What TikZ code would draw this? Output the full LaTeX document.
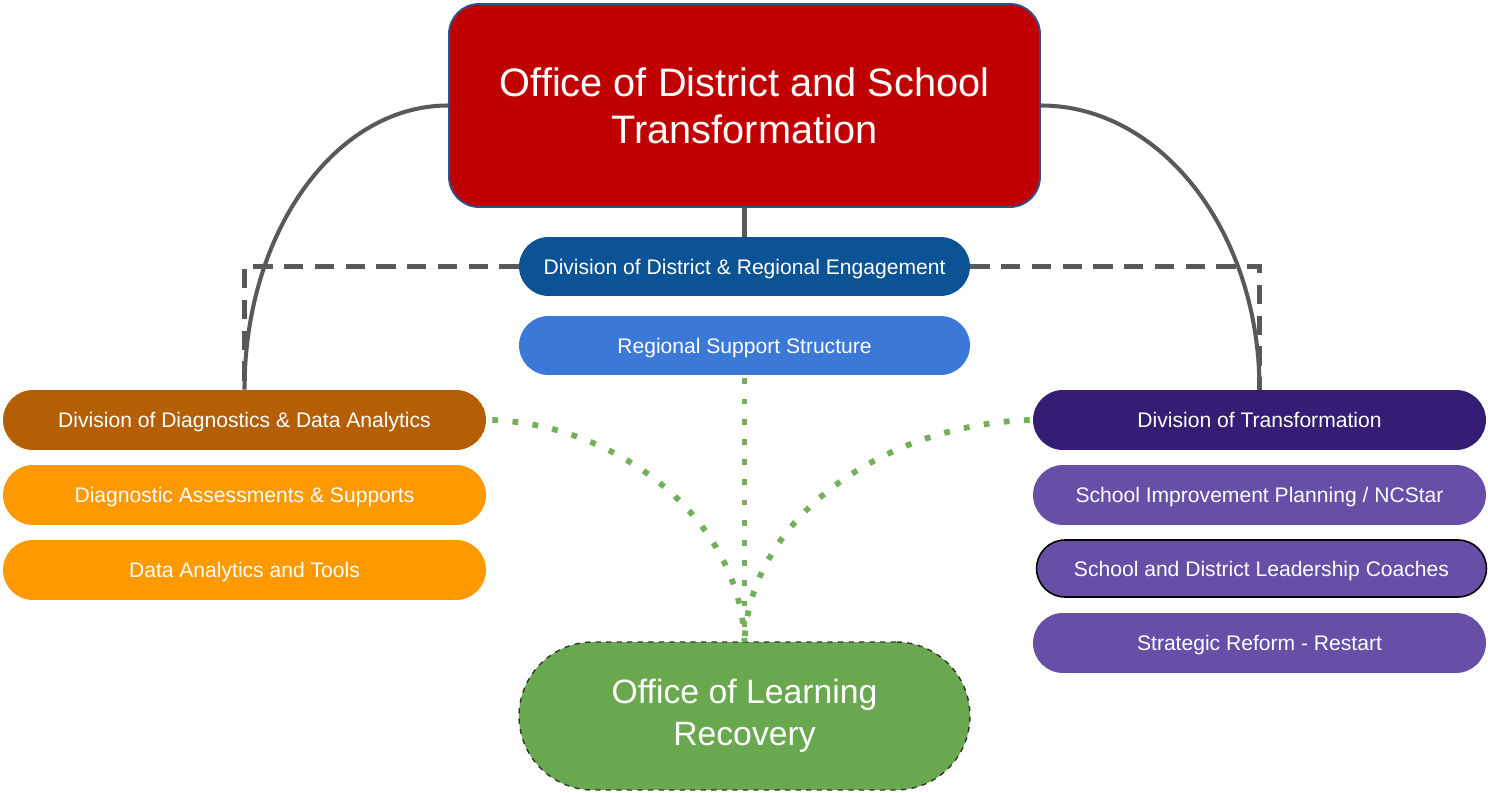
\documentclass[tikz,border=0pt]{standalone}
\usepackage{fontspec}
\setmainfont{Liberation Sans}
\definecolor{topred}{HTML}{C00000}
\definecolor{topborder}{HTML}{2F528F}
\definecolor{dreblue}{HTML}{0B5394}
\definecolor{rssblue}{HTML}{3C78D8}
\definecolor{diagbrown}{HTML}{B45F06}
\definecolor{orangeb}{HTML}{FF9900}
\definecolor{transpurple}{HTML}{351C75}
\definecolor{purpleb}{HTML}{674EA7}
\definecolor{greenb}{HTML}{6AA84F}
\definecolor{dotgreen}{HTML}{74B05A}
\definecolor{linegray}{HTML}{595959}
\begin{document}
\begin{tikzpicture}[x=0.02cm,y=-0.02cm,
  pill/.style={rectangle, inner sep=0pt, text=white, align=center,
    font=\fontsize{12}{14}\selectfont, text depth=0pt, minimum height=1.2cm, rounded corners=0.6cm},
  leftpill/.style={pill, minimum width=9.66cm},
  rightpill/.style={pill, minimum width=9.06cm},
  midpill/.style={pill, minimum width=9.02cm, minimum height=1.18cm, rounded corners=0.59cm},
  solidlink/.style={draw=linegray, line width=2.3pt},
  dashlink/.style={draw=linegray, line width=2.8pt, dash pattern=on 11pt off 6.5pt},
  dotlink/.style={draw=dotgreen, line width=3.3pt, dash pattern=on 3.3pt off 8.2pt}
]
\useasboundingbox (0,0) rectangle (1488,793);

% nodes
\node[rectangle, inner sep=0pt, fill=topred, draw=topborder, line width=1.1pt,
  minimum width=11.82cm, minimum height=4.06cm, rounded corners=0.6cm,
  text=white, align=center, font=\fontsize{22.6}{26.7}\selectfont]
  (top) at (744.5,105.5) {Office of District and School\\Transformation};

\node[midpill, fill=dreblue] (dre) at (744.5,266.5) {Division of District \& Regional Engagement};
\node[midpill, fill=rssblue] (rss) at (744.5,345.5) {Regional Support Structure};

\node[leftpill, fill=diagbrown] (diag) at (244.5,420) {Division of Diagnostics \& Data Analytics};
\node[leftpill, fill=orangeb] (das) at (244.5,495) {Diagnostic Assessments \& Supports};
\node[leftpill, fill=orangeb] (dat) at (244.5,570) {Data Analytics and Tools};

\node[rightpill, fill=transpurple] (trans) at (1259.5,420) {Division of Transformation};
\node[rightpill, fill=purpleb] (sip) at (1259.5,495) {School Improvement Planning / NCStar};
\node[pill, fill=purpleb, draw=black, line width=0.9pt, minimum width=9.0cm,
  minimum height=1.14cm, rounded corners=0.57cm] (lead) at (1261.5,568.5) {School and District Leadership Coaches};
\node[rightpill, fill=purpleb] (srr) at (1259.5,643) {Strategic Reform - Restart};

\node[rectangle, inner sep=0pt, fill=greenb, draw=black!80, line width=0.8pt, dashed,
  minimum width=9.02cm, minimum height=2.96cm, rounded corners=1.48cm,
  text=white, align=center, font=\fontsize{19.2}{23.9}\selectfont]
  (olr) at (744.5,716) {Office of Learning\\Recovery};

% connectors
\draw[solidlink] (top.south) -- (dre.north);
\draw[solidlink] (top.west) .. controls (335.8,105.5) and (244.5,231.5) .. (diag.north);
\draw[solidlink] (top.east) .. controls (1160.9,105.5) and (1259.5,231.5) .. (trans.north);
\draw[dashlink] (dre.west) -| (diag.north);
\draw[dashlink] (dre.east) -| (trans.north);

\draw[dotlink] ([yshift=-0.06cm]rss.south) -- (olr.north);
\draw[dotlink] ([xshift=0.12cm]diag.east) .. controls (620,425) and (740,520) .. (olr.north);
\draw[dotlink] ([xshift=-0.06cm]trans.west) .. controls (880,425) and (750,520) .. (olr.north);
\end{tikzpicture}
\end{document}
